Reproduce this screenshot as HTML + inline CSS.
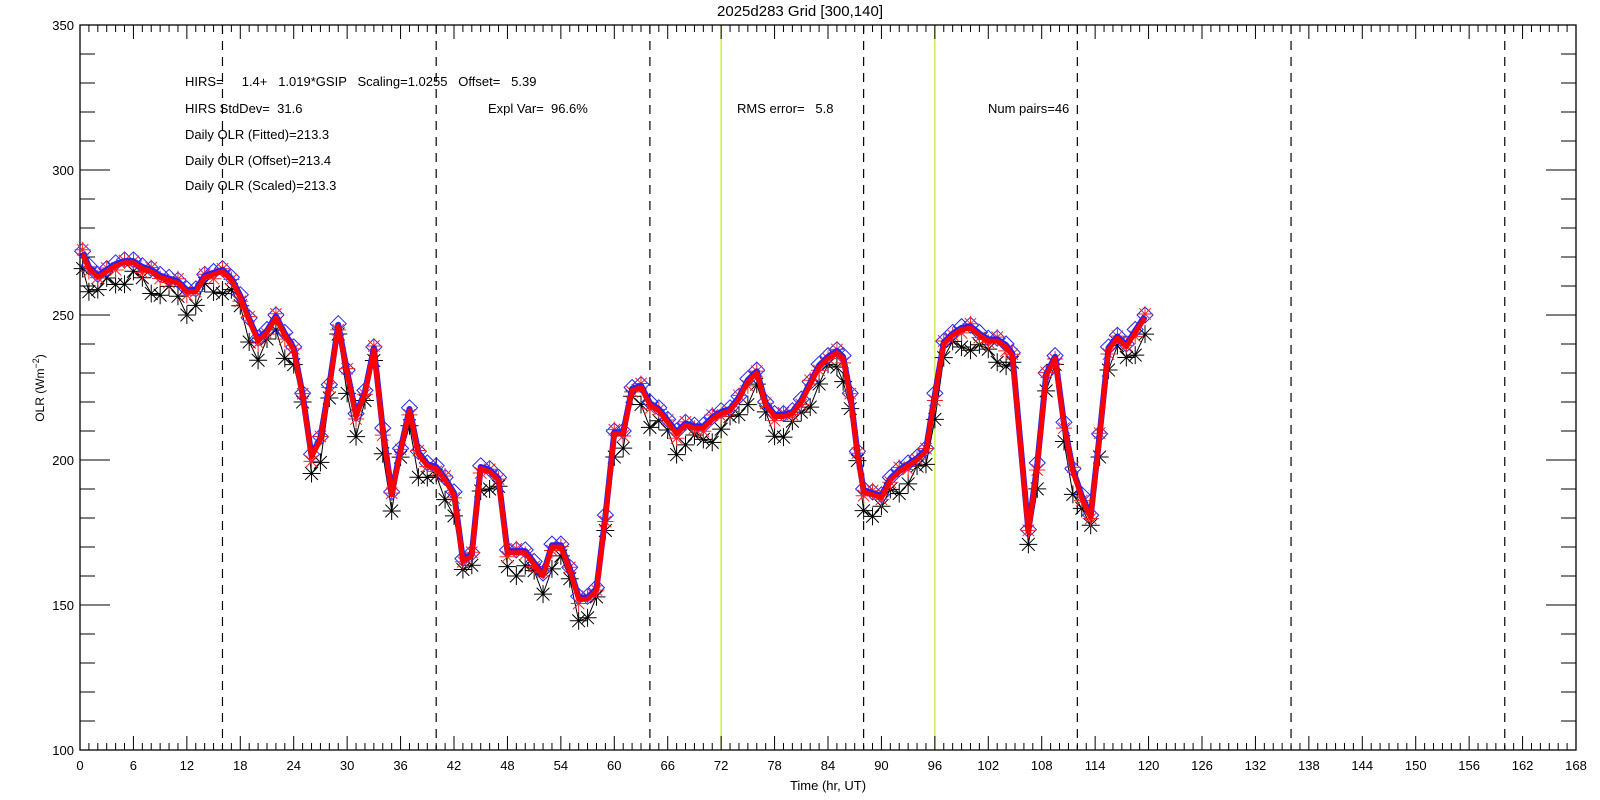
<!DOCTYPE html>
<html><head><meta charset="utf-8"><style>
html,body{margin:0;padding:0;background:#fff;}
svg{display:block;font-family:"Liberation Sans",sans-serif;}
</style></head><body>
<svg id="s" width="1600" height="800" xmlns="http://www.w3.org/2000/svg"></svg>
<script>
const S=document.getElementById('s');
const X0=80,X1=1576,Y0=750,Y1=25;
const X=h=>X0+(X1-X0)*h/168, Y=v=>Y0-(Y0-Y1)*(v-100)/250;
let o='<rect width="1600" height="800" fill="#fff"/>';
[16,40,64,88,112,136,160].forEach(h=>{o+=`<line x1="${X(h)}" y1="${Y1}" x2="${X(h)}" y2="${Y0}" stroke="#000" stroke-width="1.2" stroke-dasharray="9,7"/>`});
[72,96].forEach(h=>{o+=`<line x1="${X(h)}" y1="${Y1}" x2="${X(h)}" y2="${Y0}" stroke="#ccf04a" stroke-width="1.5"/>`});
o+=`<rect x="${X0}" y="${Y1}" width="${X1-X0}" height="${Y0-Y1}" fill="none" stroke="#000" stroke-width="1.3"/>`;
for(let h=0;h<=168;h++){const L=h%6==0?14:7;const x=X(h);
 o+=`<line x1="${x}" y1="${Y0}" x2="${x}" y2="${Y0-L}" stroke="#000"/><line x1="${x}" y1="${Y1}" x2="${x}" y2="${Y1+L}" stroke="#000"/>`;
 if(h%6==0)o+=`<text x="${x}" y="770" font-size="13" text-anchor="middle">${h}</text>`;}
for(let v=100;v<=350;v+=10){const L=v%50==0?30:15;const y=Y(v);
 o+=`<line x1="${X0}" y1="${y}" x2="${X0+L}" y2="${y}" stroke="#000"/><line x1="${X1}" y1="${y}" x2="${X1-L}" y2="${y}" stroke="#000"/>`;
 if(v%50==0)o+=`<text x="74" y="${y+5}" font-size="13" text-anchor="end">${v}</text>`;}
o+=`<text x="800" y="16" font-size="15" text-anchor="middle">2025d283 Grid [300,140]</text>`;
o+=`<text x="828" y="790" font-size="13" text-anchor="middle">Time (hr, UT)</text>`;
o+=`<text transform="translate(44,388) rotate(-90)" font-size="12" text-anchor="middle">OLR (Wm<tspan font-size="9" dy="-5">−2</tspan><tspan dy="5">)</tspan></text>`;
const T=(x,y,t)=>{o+=`<text x="${x}" y="${y}" font-size="13" style="white-space:pre">${t}</text>`};
T(185,86,'HIRS=     1.4+   1.019*GSIP   Scaling=1.0255   Offset=   5.39');
T(185,113,'HIRS StdDev=  31.6');T(488,113,'Expl Var=  96.6%');T(737,113,'RMS error=   5.8');T(988,113,'Num pairs=46');
T(185,139,'Daily OLR (Fitted)=213.3');T(185,165,'Daily OLR (Offset)=213.4');T(185,190,'Daily OLR (Scaled)=213.3');
const d=[[0.3,271],[1,266],[2,263],[3,265],[4,267],[5,268],[6,268],[7,266],[8,265],[9,263],[10,262],[11,261],[12,258],[13,258],[14,263],[15,264],[16,265],[17,262],[18,256],[19,248],[20,241],[21,244],[22,249],[23,243],[24,238],[25,222],[26,201],[27,207],[28,225],[29,246],[30,230],[31,215],[32,223],[33,238],[34,210],[35,188],[36,203],[37,217],[38,202],[39,198],[40,197],[41,193],[42,188],[43,165],[44,167],[45,197],[46,196],[47,193],[48,168],[49,168],[50,168],[51,164],[52,160],[53,170],[54,170],[55,162],[56,152],[57,152],[58,155],[59,180],[60,209],[61,209],[62,224],[63,225],[64,219],[65,217],[66,213],[67,209],[68,212],[69,211],[70,211],[71,214],[72,216],[73,217],[74,221],[75,227],[76,230],[77,219],[78,215],[79,215],[80,216],[81,220],[82,226],[83,232],[84,235],[85,237],[85.7,235],[86.5,222],[87.3,202],[88,189],[89,188],[90,187],[91,193],[92,196],[93,198],[94,200],[95,203],[96,222],[97,240],[98,243],[99,245],[100,245.5],[101,243],[102,241],[103,241],[104,239],[104.7,236],[106.5,175],[107.5,198],[108.5,229],[109.5,235],[110.5,212],[111.5,196],[112.5,187],[113.5,180],[114.5,208],[115.5,238],[116.5,242],[117.5,239],[118.5,244],[119.6,249]];
const b=d.map((p,i)=>[p[0],p[1]-5-3*Math.sin(i*1.7)]);
const pts=a=>a.map(p=>X(p[0]).toFixed(1)+','+Y(p[1]).toFixed(1)).join(' ');
o+=`<polyline points="${pts(b)}" fill="none" stroke="#000" stroke-width="1"/>`;
b.forEach(p=>{const x=X(p[0]),y=Y(p[1]),r=9;
 o+=`<path d="M${x-r} ${y}h${2*r}M${x} ${y-r}v${2*r}M${x-6.4} ${y-6.4}l12.8 12.8M${x-6.4} ${y+6.4}l12.8 -12.8" stroke="#000" stroke-width="1"/>`;});
d.forEach((p,i)=>{const x=X(p[0]),y=Y(p[1]+1),r=8;
 o+=`<path d="M${x} ${y-r}L${x+r} ${y}L${x} ${y+r}L${x-r} ${y}Z" fill="none" stroke="#22f" stroke-width="1"/>`;});
d.forEach((p,i)=>{const x=X(p[0]),y=Y(p[1]+1.5*Math.cos(i*2.3)),r=8;
 o+=`<path d="M${x-r} ${y}h${2*r}M${x} ${y-r}v${2*r}M${x-5.7} ${y-5.7}l11.4 11.4M${x-5.7} ${y+5.7}l11.4 -11.4" stroke="#f22" stroke-width="1"/>`;});
o+=`<polyline points="${pts(d.map(p=>[p[0],p[1]+0.6]))}" fill="none" stroke="#22f" stroke-width="6" stroke-linejoin="round"/>`;
o+=`<polyline points="${pts(d)}" fill="none" stroke="#f00" stroke-width="5" stroke-linejoin="round"/>`;
S.innerHTML=o;
</script>
</body></html>
